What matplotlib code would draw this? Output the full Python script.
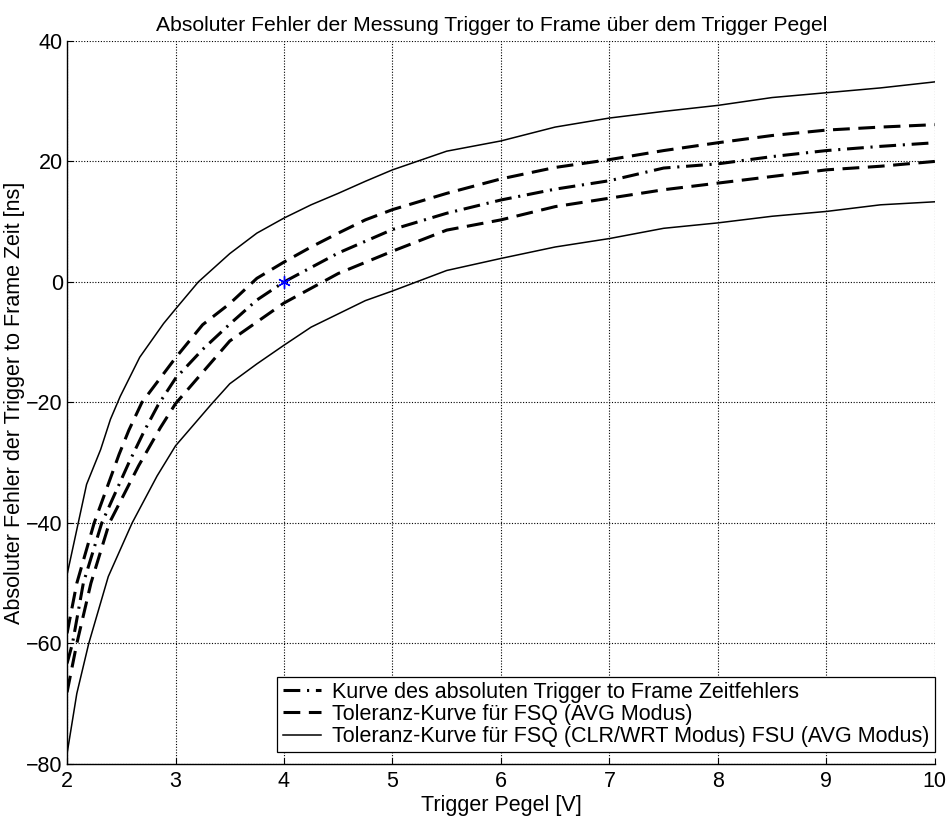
import numpy as np
import matplotlib
matplotlib.use('Agg')
import matplotlib.pyplot as plt

plt.rcParams['font.family'] = ['Liberation Sans', 'DejaVu Sans']

# Kurve des absoluten Trigger to Frame Zeitfehlers (strich-punkt)
x_center = [2.0, 2.05, 2.15, 2.32, 2.57, 2.71, 2.84, 3.0, 3.25, 3.5, 3.75, 4.0, 4.5, 5.0,
            5.5, 6.0, 6.5, 7.0, 7.5, 8.0, 8.5, 9.0, 9.5, 10.0]
y_center = [-63.3, -60, -50, -40, -30, -24.8, -20.4, -16, -11.2, -7.0, -3.0, 0, 4.8, 8.7,
            11.4, 13.6, 15.4, 16.8, 18.9, 19.6, 20.8, 21.8, 22.5, 23.1]

# Toleranz FSQ (AVG) - obere / untere Kurve
x_dash_up = [2.0, 2.09, 2.25, 2.48, 2.57, 2.69, 3.0, 3.25, 3.5, 3.75, 4.0, 4.25, 4.5, 4.75,
             5.0, 5.5, 6.0, 6.5, 7.0, 7.5, 8.0, 8.5, 9.0, 9.5, 10.0]
y_dash_up = [-58.3, -50, -40, -28.6, -24.6, -20, -12.6, -7.1, -3.6, 0.6, 3.3, 5.8, 8.1, 10.3,
             12.0, 14.7, 17.1, 19.0, 20.3, 21.8, 23.1, 24.3, 25.2, 25.7, 26.1]
x_dash_lo = [2.0, 2.09, 2.22, 2.39, 2.66, 2.86, 3.0, 3.5, 4.0, 4.5, 5.0, 5.5, 6.0, 6.5,
             7.0, 7.5, 8.0, 8.5, 9.0, 9.5, 10.0]
y_dash_lo = [-68.1, -60, -50, -40, -30.5, -24.2, -20.2, -9.8, -3.5, 1.4, 5.1, 8.6, 10.3, 12.5,
             13.9, 15.3, 16.4, 17.5, 18.6, 19.2, 20.0]

# Toleranz FSQ (CLR/WRT) FSU (AVG) - obere / untere Kurve
x_solid_up = [2.0, 2.09, 2.18, 2.31, 2.4, 2.49, 2.67, 2.89, 3.0, 3.21, 3.5, 3.75, 4.0, 4.25,
              4.5, 4.75, 5.0, 5.5, 6.0, 6.5, 7.0, 7.5, 8.0, 8.5, 9.0, 9.5, 10.0]
y_solid_up = [-48.6, -41.1, -33.6, -27.8, -22.8, -19.0, -12.5, -6.9, -4.5, 0, 4.7, 8.1, 10.6, 12.8,
              14.7, 16.7, 18.6, 21.7, 23.4, 25.7, 27.2, 28.3, 29.3, 30.6, 31.4, 32.2, 33.2]
x_solid_lo = [2.0, 2.09, 2.2, 2.38, 2.6, 2.83, 3.0, 3.33, 3.5, 3.75, 4.0, 4.25, 4.5, 4.75,
              5.0, 5.5, 6.0, 6.5, 7.0, 7.5, 8.0, 8.5, 9.0, 9.5, 10.0]
y_solid_lo = [-78.3, -68.3, -60, -48.9, -40, -32.2, -27.2, -20.3, -16.9, -13.6, -10.5, -7.5, -5.3, -3.1,
              -1.5, 1.9, 3.9, 5.8, 7.2, 8.9, 9.8, 10.9, 11.7, 12.8, 13.3]

# Sollpunkt
x_mark = [4]
y_mark = [0]

labels = ['Kurve des absoluten Trigger to Frame Zeitfehlers',
          'Toleranz-Kurve f\u00fcr FSQ (AVG Modus)',
          'Toleranz-Kurve f\u00fcr FSQ (CLR/WRT Modus) FSU (AVG Modus)']

fig = plt.figure(figsize=(9.51, 8.18), dpi=100)
ax = fig.add_axes([0.0705, 0.066, 0.9125, 0.884])

l1, = ax.plot(x_center, y_center, color='black', lw=2.2, dashes=(5.5, 2.2, 0.7, 2.2))
l2, = ax.plot(x_dash_up, y_dash_up, color='black', lw=2.2, dashes=(5.5, 2.8))
ax.plot(x_dash_lo, y_dash_lo, color='black', lw=2.2, dashes=(5.5, 2.8))
l3, = ax.plot(x_solid_up, y_solid_up, color='black', lw=1.1)
ax.plot(x_solid_lo, y_solid_lo, color='black', lw=1.1)
ax.plot(x_mark, y_mark, marker=(6, 2, 0), color='blue', markersize=9, markeredgewidth=1.0,
        linestyle='none')

ax.set_xlim(2, 10)
ax.set_ylim(-80, 40)
ax.set_xticks(np.arange(2, 11, 1))
ax.set_yticks(np.arange(-80, 41, 20))
ax.grid(True, color='black', linestyle=(0, (1, 1.5)), linewidth=0.8)
ax.tick_params(direction='in', labelsize=15.5, length=4, width=0.8)
ax.tick_params(axis='x', pad=5)
ax.tick_params(axis='y', pad=3)
for s in ['top', 'right']:
    ax.spines[s].set_visible(False)
for s in ['left', 'bottom']:
    ax.spines[s].set_linewidth(1.0)

ax.set_title('Absoluter Fehler der Messung Trigger to Frame \u00fcber dem Trigger Pegel',
             fontsize=15.2, pad=7, x=0.489)
ax.set_xlabel('Trigger Pegel [V]', fontsize=15.5, labelpad=2)
ax.set_ylabel('Absoluter Fehler der Trigger to Frame Zeit [ns]', fontsize=15.5, labelpad=1)

leg = ax.legend([l1, l2, l3], labels, loc='lower right', bbox_to_anchor=(1.0, 0.016),
                fontsize=15.5, frameon=True, fancybox=False, handlelength=1.8,
                borderpad=0.25, labelspacing=0.05, handletextpad=0.5, borderaxespad=0)
leg.get_frame().set_edgecolor('black')
leg.get_frame().set_linewidth(0.9)
leg.get_frame().set_alpha(1)

fig.savefig('out.png', dpi=100)
